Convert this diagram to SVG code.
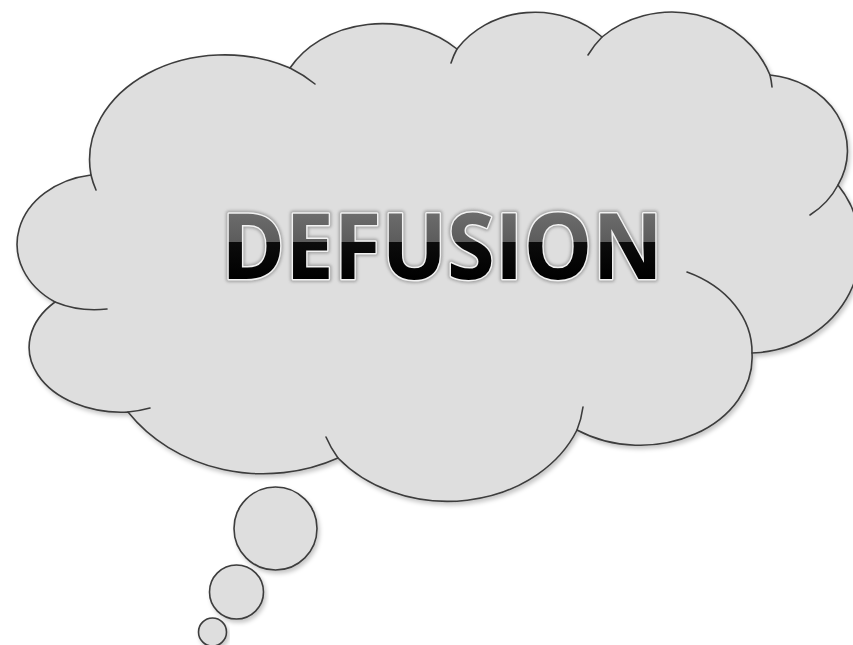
<svg xmlns="http://www.w3.org/2000/svg" width="853" height="645" viewBox="0 0 853 645">
  <defs>
    <filter id="shadow" x="-10%" y="-10%" width="120%" height="130%">
      <feDropShadow dx="2" dy="3" stdDeviation="2" flood-color="#000" flood-opacity="0.22"/>
    </filter>
    <filter id="glow" x="-10%" y="-20%" width="120%" height="140%">
      <feGaussianBlur stdDeviation="1.5"/>
    </filter>
    <linearGradient id="txt" gradientUnits="userSpaceOnUse" x1="0" y1="213" x2="0" y2="279">
      <stop offset="0" stop-color="#6c6c6c"/>
      <stop offset="0.44" stop-color="#5c5c5c"/>
      <stop offset="0.44" stop-color="#0c0c0c"/>
      <stop offset="1" stop-color="#000000"/>
    </linearGradient>
  </defs>
  <style>
    .shape { fill: #dedede; stroke: #3c3c3c; stroke-width: 1.6; stroke-linejoin: round; }
    .tail { fill: none; stroke: #3c3c3c; stroke-width: 1.6; stroke-linecap: round; }
    .word { font-family: "Open Sans", "Liberation Sans", sans-serif; font-weight: bold; font-size: 92px; }
  </style>
  <rect width="853" height="645" fill="#ffffff"/>

  <g id="cloud">
    <path class="shape" filter="url(#shadow)" d="M 91,175
      A 135 105 0 0 1 290,68
      A 105 85 0 0 1 457,49
      A 94 83 0 0 1 602,37
      A 105 98 0 0 1 770,75
      A 87 76 0 0 1 838,185
      A 112 105 0 0 1 752,353
      A 112 88 0 0 1 577,430
      A 140 115 0 0 1 338,458
      A 165 145 0 0 1 128,412
      A 92 65 0 0 1 55,302
      A 87 70 0 0 1 91,175 Z"/>
    <path class="tail" d="M 96,190 A 135 105 0 0 1 91,175"/>
    <path class="tail" d="M 290,68 A 135 105 0 0 1 315,84"/>
    <path class="tail" d="M 451,63 A 94 83 0 0 1 457,49"/>
    <path class="tail" d="M 588,55 A 105 98 0 0 1 602,37"/>
    <path class="tail" d="M 770,75 A 105 98 0 0 1 772,87"/>
    <path class="tail" d="M 838,185 A 87 76 0 0 1 810,215"/>
    <path class="tail" d="M 687,272 A 112 88 0 0 1 752,353"/>
    <path class="tail" d="M 583,407 A 140 115 0 0 1 577,430"/>
    <path class="tail" d="M 338,458 A 140 115 0 0 1 326,437"/>
    <path class="tail" d="M 150,408 A 92 65 0 0 1 128,412"/>
    <path class="tail" d="M 107,309 A 87 70 0 0 1 55,302"/>
  </g>

  <g id="bubbles">
    <circle class="shape" filter="url(#shadow)" cx="275.5" cy="528.5" r="41.5"/>
    <circle class="shape" filter="url(#shadow)" cx="236.5" cy="592" r="27"/>
    <circle class="shape" filter="url(#shadow)" cx="212.5" cy="632" r="14"/>
  </g>

  <g id="title">
    <text class="word" x="221" y="279" textLength="442" lengthAdjust="spacingAndGlyphs" fill="none" stroke="#8a8a8a" stroke-width="6" stroke-linejoin="round" filter="url(#glow)" opacity="0.7">DEFUSION</text>
    <text class="word" x="221" y="279" textLength="442" lengthAdjust="spacingAndGlyphs" fill="url(#txt)" stroke="#f2f2f2" stroke-width="3" stroke-linejoin="round" paint-order="stroke">DEFUSION</text>
  </g>
</svg>
